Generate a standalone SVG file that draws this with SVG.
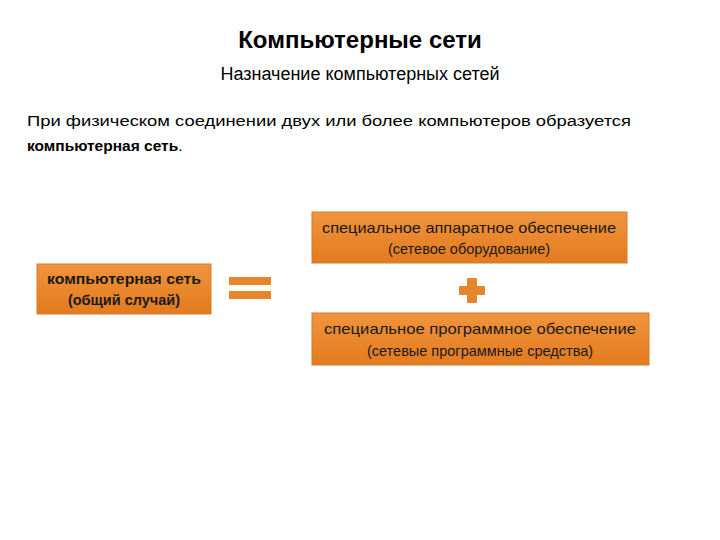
<svg xmlns="http://www.w3.org/2000/svg" width="720" height="540" viewBox="0 0 720 540">
<defs>
<linearGradient id="og" x1="0" y1="0" x2="0" y2="1"><stop offset="0" stop-color="#f0943c"/><stop offset="1" stop-color="#e37a1f"/></linearGradient>
<style>
.t{font-family:"Liberation Sans",Arial,sans-serif;fill:#000}
.b{fill:url(#og);stroke:#d67a2c;stroke-width:1}
.bt{font-family:"Liberation Sans",Arial,sans-serif;font-size:14.5px;fill:#1a1a1a;text-anchor:middle}
.op{fill:#e8862e}
</style>
</defs>
<rect width="720" height="540" fill="#fff"/>
<text class="t" x="360" y="48" font-size="24" font-weight="bold" text-anchor="middle">Компьютерные сети</text>
<text class="t" x="360" y="80" font-size="18" text-anchor="middle">Назначение компьютерных сетей</text>
<text class="t" x="27" y="126" font-size="15.5" textLength="604" lengthAdjust="spacingAndGlyphs">При физическом соединении двух или более компьютеров образуется</text>
<text class="t" x="27" y="151" font-size="15.5"><tspan font-weight="bold">компьютерная сеть</tspan>.</text>
<g id="node-network">
<rect class="b" x="37" y="264" width="174" height="50"/>
<text class="bt" x="124" y="284" font-weight="bold" textLength="154" lengthAdjust="spacingAndGlyphs">компьютерная сеть</text>
<text class="bt" x="124" y="305" font-weight="bold">(общий случай)</text>
</g>
<g id="node-hardware">
<rect class="b" x="312" y="212" width="315" height="51"/>
<text class="bt" x="469" y="233" textLength="294" lengthAdjust="spacingAndGlyphs">специальное аппаратное обеспечение</text>
<text class="bt" x="469" y="254">(сетевое оборудование)</text>
</g>
<g id="node-software">
<rect class="b" x="312" y="313" width="337" height="52"/>
<text class="bt" x="480" y="334" textLength="312" lengthAdjust="spacingAndGlyphs">специальное программное обеспечение</text>
<text class="bt" x="480" y="356">(сетевые программные средства)</text>
</g>
<g id="connectors">
<rect class="op" x="229" y="277" width="42" height="8"/>
<rect class="op" x="229" y="291" width="42" height="8"/>
<rect class="op" x="467" y="278" width="10" height="25"/>
<rect class="op" x="459" y="286" width="26" height="9"/>
</g>
</svg>
